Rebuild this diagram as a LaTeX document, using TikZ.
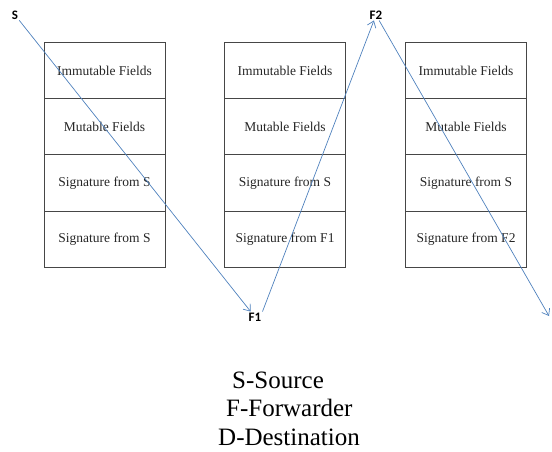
\documentclass[tikz,border=0pt]{standalone}
\usepackage{fontspec}
\setmainfont{Liberation Serif}
\newfontfamily\lblfont{Carlito}
\usetikzlibrary{positioning, arrows.meta}
\definecolor{arrowblue}{RGB}{79,129,189}
\definecolor{boxgray}{RGB}{70,70,70}
\tikzset{campo/.style={draw=boxgray, line width=0.9pt, rectangle, minimum width=121pt, minimum height=56.25pt, outer sep=0pt, inner sep=0pt, font=\fontsize{13.5}{16}\selectfont, text=black!85}}
\tikzset{salto/.style={draw=arrowblue, line width=0.7pt, -{Straight Barb[length=6pt,width=9pt]}}}
\tikzset{nodo/.style={inner sep=1pt, font=\lblfont\bfseries\fontsize{13}{15}\selectfont}}
\tikzset{leyenda/.style={anchor=base west, inner sep=0pt, font=\fontsize{25}{30}\selectfont}}

\begin{document}
\begin{tikzpicture}[x=1pt, y=1pt]
    \useasboundingbox (0,0) rectangle (552,-452);

    % packet at S
    \node[campo](inm1) at (104.5,-70.5) {Immutable Fields};
    \node[campo, below= 0mm of inm1](mut1) {Mutable Fields};
    \node[campo, below= 0mm of mut1](firma1) {Signature from S};
    \node[campo, below= 0mm of firma1](firmb1) {Signature from S};

    % packet at F1
    \node[campo](inm2) at (285,-70.5) {Immutable Fields};
    \node[campo, below= 0mm of inm2](mut2) {Mutable Fields};
    \node[campo, below= 0mm of mut2](firma2) {Signature from S};
    \node[campo, below= 0mm of firma2](firmb2) {Signature from F1};

    % packet at F2
    \node[campo](inm3) at (466,-70.5) {Immutable Fields};
    \node[campo, below= 0mm of inm3](mut3) {Mutable Fields};
    \node[campo, below= 0mm of mut3](firma3) {Signature from S};
    \node[campo, below= 0mm of firma3](firmb3) {Signature from F2};

    % hops
    \node[nodo](s) at (15,-15) {S};
    \node[nodo](f1) at (255,-317) {F1};
    \node[nodo](f2) at (376,-15) {F2};
    \coordinate (d) at (549,-316);

    \draw[salto] (s) -- (f1);
    \draw[salto] (f1.north east) -- (f2);
    \draw[salto] (f2) -- (d);

    % legend
    \node[leyenda](src) at (232,-388) {S-Source};
    \node[leyenda](fwd) at (226,-416.5) {F-Forwarder};
    \node[leyenda](dst) at (218,-445) {D-Destination};
\end{tikzpicture}
\end{document}
